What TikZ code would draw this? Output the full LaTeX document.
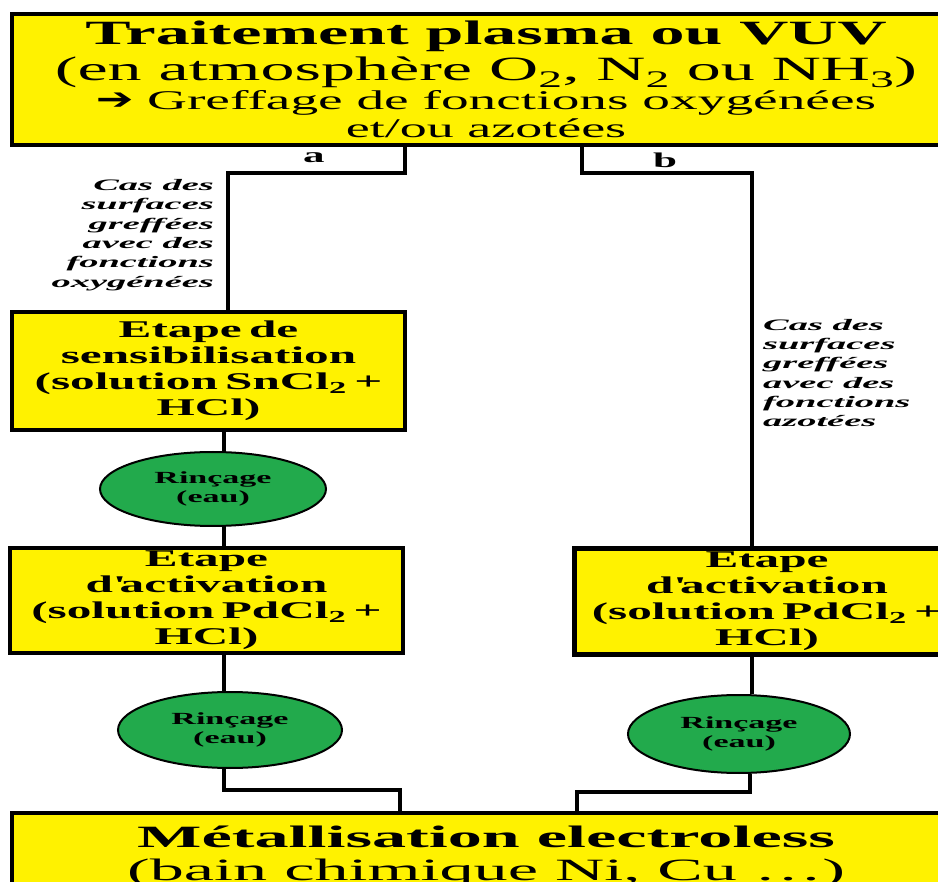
\documentclass[tikz,border=0pt]{standalone}
\usepackage{fontspec}
\setmainfont{Liberation Serif}
\newfontfamily\titlefont{Liberation Serif}[FakeStretch=2.0]
\newfontfamily\basefont{Liberation Serif}[FakeStretch=2.2]
\newfontfamily\stepfont{Liberation Serif}[FakeStretch=2.05, WordSpace=0.6]
\newfontfamily\notefont{Liberation Serif}[FakeStretch=2.4]
\newfontfamily\rinsefont{Liberation Serif}[FakeStretch=2.0]
\newfontfamily\symfont{DejaVu Sans}[FakeStretch=1.5]
\usetikzlibrary{shapes.geometric,backgrounds}

\definecolor{boxyellow}{RGB}{255,242,0}
\definecolor{rinsegreen}{RGB}{34,170,76}

\tikzset{
  stepbox/.style={draw=black, line width=4.5pt, fill=boxyellow, inner sep=0pt,
                  align=center, font=\stepfont\bfseries\fontsize{24}{26}\selectfont},
  rinse/.style={ellipse, draw=black, line width=2pt, fill=rinsegreen, inner sep=0pt,
                align=center, font=\rinsefont\bfseries\fontsize{17}{19}\selectfont},
  link/.style={draw=black, line width=3.5pt},
  note/.style={font=\notefont\bfseries\itshape\fontsize{16}{19.3}\selectfont, inner sep=0pt},
  branch/.style={font=\stepfont\bfseries\fontsize{21}{21}\selectfont, inner sep=0pt}
}

\begin{document}
\begin{tikzpicture}[x=1pt, y=-1pt]
  \useasboundingbox (0,0) rectangle (938,882);
  \clip (0,0) rectangle (938,882);

  % main treatment box
  \node[stepbox, minimum width=948pt, minimum height=131pt,
        font=\titlefont\fontsize{34}{36}\selectfont]
    (top) at (486,79.5) {%
      {\bfseries Traitement plasma ou VUV}\\
      (en atmosphère O\textsubscript{2}, N\textsubscript{2} ou NH\textsubscript{3})\\[-7pt]
      {\fontsize{27}{28}\selectfont{\symfont\bfseries\fontsize{30}{28}\selectfont ➔}
        {\addfontfeatures{FakeStretch=2.05}Greffage de fonctions oxygénées}}\\[-8pt]
      {\fontsize{27}{28}\selectfont et/ou azotées}};

  % branch a (oxygenated functions)
  \node[stepbox, minimum width=393pt, minimum height=118pt] (sens) at (208.5,371)
    {Etape de\\ sensibilisation\\ (solution SnCl\textsubscript{2} +\\ HCl)};
  \node[rinse, minimum width=226pt, minimum height=74pt] (r1) at (213,489)
    {Rinçage\\ (eau)};
  \node[stepbox, minimum width=393pt, minimum height=105pt] (acta) at (206.5,600.5)
    {Etape\\ d\textquotesingle activation\\ (solution PdCl\textsubscript{2} +\\ HCl)};
  \node[rinse, minimum width=224pt, minimum height=76pt] (r2) at (230,730)
    {Rinçage\\ (eau)};

  % branch b (nitrogenated functions)
  \node[stepbox, minimum width=385pt, minimum height=106pt] (actb) at (767,601.5)
    {Etape\\ d\textquotesingle activation\\ (solution PdCl\textsubscript{2} +\\ HCl)};
  \node[rinse, minimum width=222pt, minimum height=78pt] (r3) at (739,734)
    {Rinçage\\ (eau)};

  % electroless plating box
  \node[stepbox, minimum width=948pt, minimum height=88pt,
        font=\basefont\fontsize{31}{33}\selectfont]
    (metal) at (486,857) {%
      {\bfseries Métallisation electroless}\\
      (bain chimique Ni, Cu \dots)};

  % branch labels
  \node[branch] (la) at (314,158) {a};
  \node[branch] (lb) at (665,160) {b};
  \node[note, anchor=east, align=right] (na) at (214,235)
    {Cas des\\ surfaces\\ greffées\\ avec des\\ fonctions\\ oxygénées};
  \node[note, anchor=west, align=left] (nb) at (763,373)
    {Cas des\\ surfaces\\ greffées\\ avec des\\ fonctions\\ azotées};

  % connector bends
  \coordinate (a1) at (405,173);
  \coordinate (a2) at (228,173);
  \coordinate (b1) at (582,173);
  \coordinate (b2) at (752,173);
  \coordinate (ca) at (224,0);
  \coordinate (m1) at (224,790);
  \coordinate (m2) at (400,790);
  \coordinate (m3) at (750,792);
  \coordinate (m4) at (577,792);

  \begin{scope}[on background layer]
    \draw[link] (top.south -| a1) -- (a1) -- (a2) -- (sens.north -| a2);
    \draw[link] (top.south -| b1) -- (b1) -- (b2) -- (actb.north -| b2);
    \draw[link] (sens.south -| ca) -- (r1.north -| ca);
    \draw[link] (r1.south -| ca) -- (acta.north -| ca);
    \draw[link] (acta.south -| ca) -- (r2.north -| ca);
    \draw[link] (r2.south -| m1) -- (m1) -- (m2) -- (metal.north -| m2);
    \draw[link] (actb.south -| b2) -- (r3.north -| b2);
    \draw[link] (r3.south -| m3) -- (m3) -- (m4) -- (metal.north -| m4);
  \end{scope}
\end{tikzpicture}
\end{document}
